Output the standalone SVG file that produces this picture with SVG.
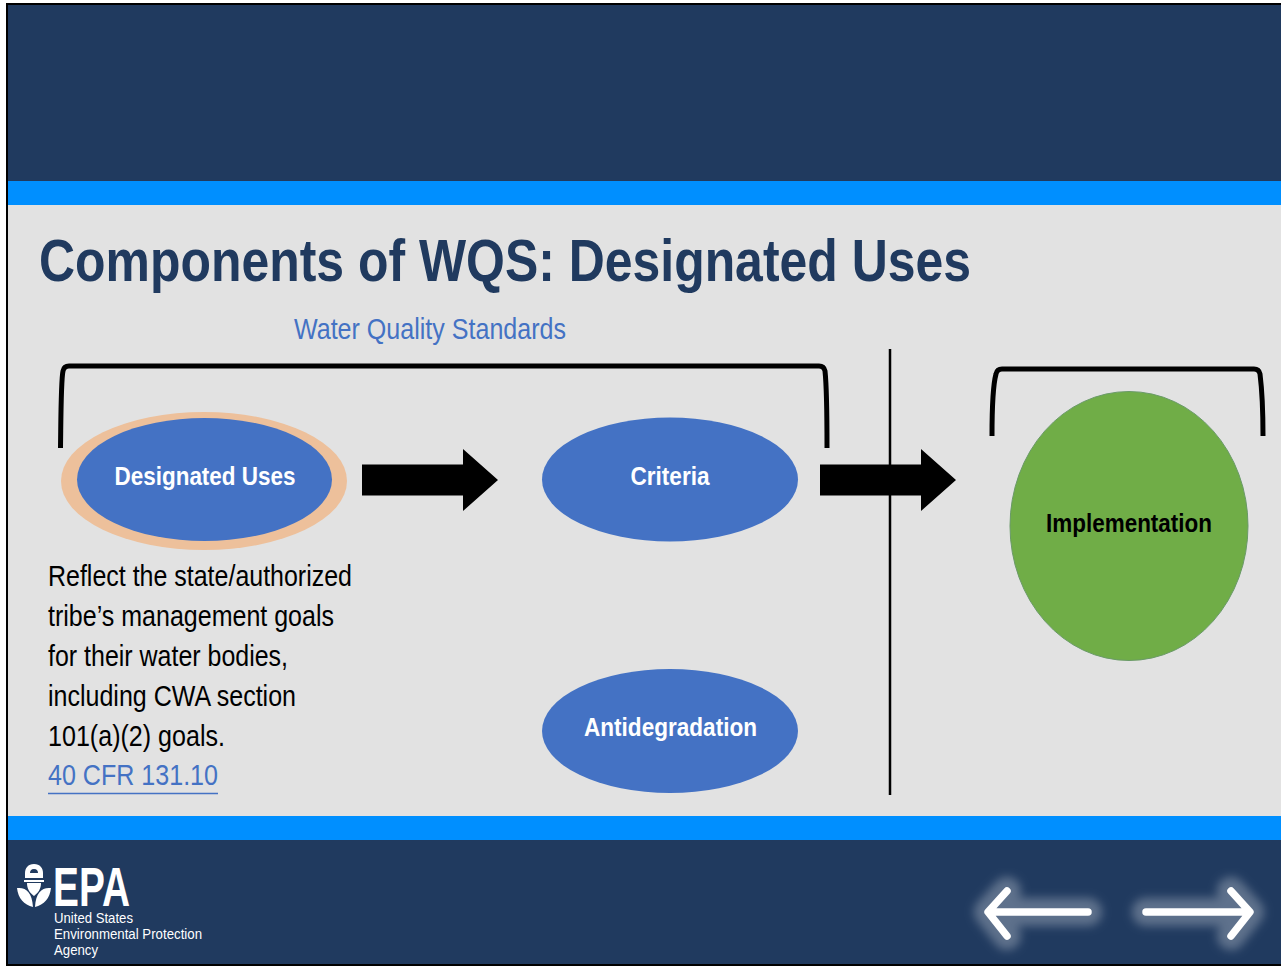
<svg xmlns="http://www.w3.org/2000/svg" width="1281" height="966" viewBox="0 0 1281 966">
<style>
text{font-family:"Liberation Sans",Arial,sans-serif}
.node{fill:#4472c4}
.lbl{fill:#fff;font-weight:bold;font-size:25px;text-anchor:middle}
.body{fill:#000;font-size:29px}
.brk{fill:none;stroke:#000;stroke-width:5}
.arr{fill:#000}
.glow{fill:none;stroke:#fff;stroke-opacity:.28;stroke-width:28;stroke-linecap:round;stroke-linejoin:round;filter:url(#b)}
.nav{fill:none;stroke:#fff;stroke-width:7.500;stroke-linecap:round;stroke-linejoin:round}
</style>
<defs><filter id="b" x="-30%" y="-50%" width="160%" height="200%"><feGaussianBlur stdDeviation="5"/></filter></defs>
<rect width="1281" height="966" fill="#fff"/>
<rect x="6" y="3" width="1275" height="963" fill="#000"/>
<rect x="8" y="5" width="1273" height="959" fill="#e2e2e2"/>
<rect x="8" y="5" width="1273" height="176" fill="#203a5f"/>
<rect x="8" y="181" width="1273" height="24" fill="#008fff"/>
<rect x="8" y="816" width="1273" height="24" fill="#008fff"/>
<rect x="8" y="840" width="1273" height="124" fill="#203a5f"/>
<text x="39" y="281" font-size="59" font-weight="bold" fill="#203a5f" textLength="932" lengthAdjust="spacingAndGlyphs">Components of WQS: Designated Uses</text>
<text x="294" y="339" font-size="30" fill="#4472c4" textLength="272" lengthAdjust="spacingAndGlyphs">Water Quality Standards</text>
<g id="connectors">
<path class="brk" d="M60.500 448C61 410 61 380 63 371Q64 366 69 366H819Q824 366 825 371C826.500 385 827 420 827 448"/>
<path class="brk" d="M992 436C992 410 993 385 996 374Q997 369 1002 369H1254Q1259 369 1260 374C1262 390 1263 415 1263 436"/>
<path class="arr" d="M362 464.500H463V449L498 480L463 511V495.500H362Z"/>
<path class="arr" d="M820 464.500H921V449L956 480L921 511V495.500H820Z"/>
<path d="M890 349V795" stroke="#000" stroke-width="2.500" fill="none"/>
</g>
<g id="designated-uses"><ellipse cx="204" cy="481" rx="143" ry="69" fill="#edc09b"/><ellipse class="node" cx="204.500" cy="479.500" rx="127.500" ry="61.500"/><text class="lbl" x="205" y="485" textLength="181" lengthAdjust="spacingAndGlyphs">Designated Uses</text></g>
<g id="criteria"><ellipse class="node" cx="670" cy="479.500" rx="128" ry="62"/><text class="lbl" x="670" y="485" textLength="79" lengthAdjust="spacingAndGlyphs">Criteria</text></g>
<g id="antidegradation"><ellipse class="node" cx="670" cy="731" rx="128" ry="62"/><text class="lbl" x="670.500" y="736" textLength="173" lengthAdjust="spacingAndGlyphs">Antidegradation</text></g>
<g id="implementation"><ellipse cx="1129" cy="526" rx="119" ry="134.500" fill="#70ad47" stroke="#6a9a68"/><text x="1129" y="532" font-size="25" font-weight="bold" fill="#000" text-anchor="middle" textLength="166" lengthAdjust="spacingAndGlyphs">Implementation</text></g>
<g id="description" class="body">
<text x="48" y="586" textLength="304" lengthAdjust="spacingAndGlyphs">Reflect the state/authorized</text>
<text x="48" y="626" textLength="286" lengthAdjust="spacingAndGlyphs">tribe’s management goals</text>
<text x="48" y="666" textLength="240" lengthAdjust="spacingAndGlyphs">for their water bodies,</text>
<text x="48" y="706" textLength="248" lengthAdjust="spacingAndGlyphs">including CWA section</text>
<text x="48" y="746" textLength="177" lengthAdjust="spacingAndGlyphs">101(a)(2) goals.</text>
<text x="48" y="785" fill="#4472c4" textLength="170" lengthAdjust="spacingAndGlyphs">40 CFR 131.10</text>
<path d="M48 793.500H218" stroke="#4472c4" stroke-width="1.500"/>
</g>
<g id="epa-logo" fill="#fff">
<path fill-rule="evenodd" d="M34 864c6 0 9 4 9 9v5H25v-5c0-5 3-9 9-9ZM34 869c-3 0-4 2-4 4h8c0-2-1-4-4-4Z"/>
<path d="M24 880h20v2H24ZM27 883h14c0 6-3 10-7 13c-4-3-7-7-7-13ZM17 888c9-1 15 4 16 19c-9-2-15-9-16-19ZM51 888c-9-1-15 4-16 19c9-2 15-9 16-19Z"/>
<text x="53" y="906" font-size="56" font-weight="bold" textLength="77" lengthAdjust="spacingAndGlyphs">EPA</text>
<text x="54" y="923" font-size="15" textLength="79" lengthAdjust="spacingAndGlyphs">United States</text>
<text x="54" y="939" font-size="15" textLength="148" lengthAdjust="spacingAndGlyphs">Environmental Protection</text>
<text x="54" y="955" font-size="15" textLength="44" lengthAdjust="spacingAndGlyphs">Agency</text>
</g>
<g id="nav-back"><path class="glow" d="M1088 912H990M1007 891L988 912L1007 936"/><path class="nav" d="M1088 912H990M1007 891L988 912L1007 936"/></g>
<g id="nav-next"><path class="glow" d="M1146 912H1248M1231 891L1250 912L1231 936"/><path class="nav" d="M1146 912H1248M1231 891L1250 912L1231 936"/></g>
</svg>
